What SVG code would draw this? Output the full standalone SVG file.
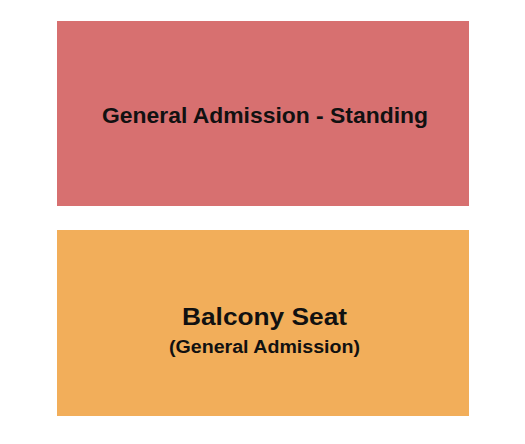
<svg xmlns="http://www.w3.org/2000/svg" width="525" height="444" viewBox="0 0 525 444">
<style>
.lbl{font-family:"Liberation Sans",Arial,sans-serif;font-weight:bold;fill:#111;text-anchor:middle}
</style>
<rect width="525" height="444" fill="#fff"/>
<g id="ga-standing">
<rect x="57" y="21" width="412" height="185" fill="#D77070"/>
<text class="lbl" x="265" y="122.5" font-size="22" textLength="326" lengthAdjust="spacingAndGlyphs">General Admission - Standing</text>
</g>
<g id="balcony">
<rect x="57" y="230" width="412" height="186" fill="#F2AE5A"/>
<text class="lbl" x="264.5" y="324.5" font-size="24" textLength="165" lengthAdjust="spacingAndGlyphs">Balcony Seat</text>
<text class="lbl" x="264.5" y="352.5" font-size="17.5" textLength="191" lengthAdjust="spacingAndGlyphs">(General Admission)</text>
</g>
<g id="connectors"></g>
</svg>
